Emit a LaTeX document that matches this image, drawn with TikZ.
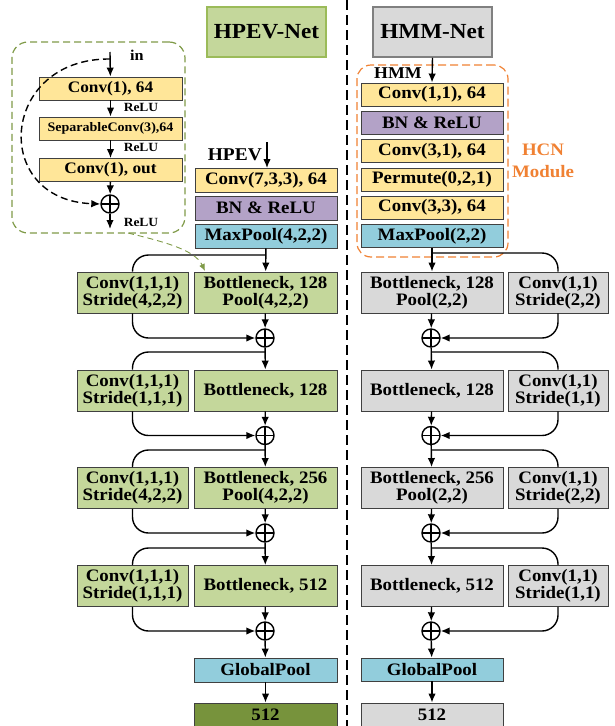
\documentclass[tikz,border=0pt]{standalone}
\usepackage{fontspec}
\setmainfont[FakeStretch=1.08]{Liberation Serif}
\usetikzlibrary{arrows.meta}

\definecolor{cyel}{HTML}{FFE699}
\definecolor{cpur}{HTML}{B3A2C7}
\definecolor{cblu}{HTML}{92CDDC}
\definecolor{cgrn}{HTML}{C4D79B}
\definecolor{cgry}{HTML}{D9D9D9}
\definecolor{cdgr}{HTML}{77933C}
\definecolor{cgbd}{HTML}{9BBB59}
\definecolor{cora}{HTML}{F08133}
\definecolor{coli}{HTML}{7F9A48}

\tikzset{
  blk/.style={draw=black!75, line width=0.9pt, inner sep=0pt, align=center,
    font=\fontsize{17.5}{17}\selectfont\bfseries},
  one/.style={blk, minimum width=142pt, minimum height=24pt},
  two/.style={blk, minimum height=41pt},
  small/.style={blk, minimum width=143pt, minimum height=23pt,
    font=\fontsize{16}{17}\selectfont\bfseries},
  oplus/.style={circle, draw, line width=1.4pt, minimum size=18pt, inner sep=0pt,
    path picture={\draw[line width=1.4pt] (path picture bounding box.north) -- (path picture bounding box.south)
      (path picture bounding box.west) -- (path picture bounding box.east);}},
  lbl/.style={font=\fontsize{12.5}{13}\selectfont\bfseries, inner sep=0pt},
  arr/.style={line width=1.4pt, -{Latex[length=9pt,width=7.5pt]}},
  skip/.style={line width=1.4pt, rounded corners=16pt},
}

\begin{document}
\begin{tikzpicture}[x=1pt, y=-1pt]
  \useasboundingbox (0,0) rectangle (615,726);
  \draw[line width=1.5pt, dash pattern=on 10pt off 5pt] (347,0) -- (347,726);

  % titles
  \node[draw=cgbd, fill=cgrn, line width=1.5pt, minimum width=119pt, minimum height=50pt,
        font=\fontsize{21.5}{22}\selectfont\bfseries] (hpevt) at (266.5,32) {HPEV-Net};
  \node[draw=black!50, fill=cgry, line width=1.5pt, minimum width=119pt, minimum height=50pt,
        font=\fontsize{21.5}{22}\selectfont\bfseries] (hmmt) at (432.5,32) {HMM-Net};

  % residual unit
  \node[draw=coli, line width=1.2pt, rounded corners=16pt, dash pattern=on 7pt off 4pt,
        minimum width=173pt, minimum height=191pt] (inset) at (98.5,137.5) {};
  \node[small, fill=cyel] (ia) at (110.5,88.5) {Conv(1), 64};
  \node[small, fill=cyel, font=\fontsize{13}{14}\selectfont\bfseries] (ib) at (110.5,128.5) {SeparableConv(3),64};
  \node[small, fill=cyel] (ic) at (110.5,170) {Conv(1), out};
  \node[oplus] (ip) at (110,204) {};
  \coordinate (iin) at (110,52);
  \coordinate (ibr) at (110,59);
  \coordinate (iout) at (110,229);
  \node[font=\fontsize{15}{15}\selectfont\bfseries, inner sep=0pt] (inl) at (137,55) {in};
  \node[lbl] (r1) at (141,107) {ReLU};
  \node[lbl] (r2) at (141,147) {ReLU};
  \node[lbl] (r3) at (141,222) {ReLU};
  \draw[arr] (iin) -- (ia);
  \draw[arr] (ia) -- (ib);
  \draw[arr] (ib) -- (ic);
  \draw[arr] (ic) -- (ip);
  \draw[arr] (ip) -- (iout);
  \draw[arr, dash pattern=on 7pt off 4pt]
    (ibr) .. controls (0,58) and (-10,200) .. (ip.west);

  % HPEV stem
  \node[one, fill=cyel] (conv7) at (266,180.5) {Conv(7,3,3), 64};
  \node[one, fill=cpur] (bnh) at (266,208) {BN \& ReLU};
  \node[one, fill=cblu] (mph) at (266,236) {MaxPool(4,2,2)};
  \coordinate (hin) at (267,142);
  \node[anchor=east, font=\fontsize{18}{18}\selectfont\bfseries, inner sep=0pt] (hpevl) at (262,155) {HPEV};
  \draw[arr] (hin) -- (hin |- conv7.north);

  % HMM stem
  \node[one, fill=cyel, minimum height=23pt] (c11) at (432,94.5) {Conv(1,1), 64};
  \node[one, fill=cpur, minimum height=23pt] (bnm) at (432,122.5) {BN \& ReLU};
  \node[one, fill=cyel, minimum height=23pt] (c31) at (432,151) {Conv(3,1), 64};
  \node[one, fill=cyel, minimum height=23pt] (perm) at (432,179.5) {Permute(0,2,1)};
  \node[one, fill=cyel, minimum height=23pt] (c33) at (432,207.5) {Conv(3,3), 64};
  \node[one, fill=cblu, minimum height=23pt] (mpm) at (432,236) {MaxPool(2,2)};
  \node[draw=cora, line width=1.2pt, rounded corners=14pt, dash pattern=on 8pt off 4pt,
        minimum width=151pt, minimum height=192pt] (hcn) at (432.5,161) {};
  \node[anchor=west, font=\fontsize{16.5}{16}\selectfont\bfseries, inner sep=0pt] (hmml) at (374,73) {HMM};
  \node[text=cora, align=center, font=\fontsize{17.5}{22}\selectfont\bfseries] (hcnl) at (543,161) {HCN\\Module};
  \draw[arr] (hmmt.south) -- (c11.north);

  % HPEV blocks
  \node[two, fill=cgrn, minimum width=111pt] (hl1) at (132.5,292.5) {Conv(1,1,1)\\Stride(4,2,2)};
  \node[two, fill=cgrn, minimum width=143pt] (hb1) at (265.5,292.5) {Bottleneck, 128\\Pool(4,2,2)};
  \node[oplus] (hp1) at (265,338) {};
  \node[two, fill=cgrn, minimum width=111pt] (hl2) at (132.5,390.5) {Conv(1,1,1)\\Stride(1,1,1)};
  \node[two, fill=cgrn, minimum width=143pt] (hb2) at (265.5,390.5) {Bottleneck, 128};
  \node[oplus] (hp2) at (265,435.5) {};
  \node[two, fill=cgrn, minimum width=111pt] (hl3) at (132.5,488) {Conv(1,1,1)\\Stride(4,2,2)};
  \node[two, fill=cgrn, minimum width=143pt] (hb3) at (265.5,488) {Bottleneck, 256\\Pool(4,2,2)};
  \node[oplus] (hp3) at (265,533) {};
  \node[two, fill=cgrn, minimum width=111pt] (hl4) at (132.5,586) {Conv(1,1,1)\\Stride(1,1,1)};
  \node[two, fill=cgrn, minimum width=143pt] (hb4) at (265.5,586) {Bottleneck, 512};
  \node[oplus] (hp4) at (265,631) {};
  \node[one, fill=cblu, minimum width=143pt] (gph) at (265.5,670) {GlobalPool};
  \node[one, fill=cdgr, minimum width=143pt] (oh) at (265.5,715) {512};

  \coordinate (hs1) at (265,255);
  \coordinate (hs2) at (265,352);
  \coordinate (hs3) at (265,450);
  \coordinate (hs4) at (265,548);
  \draw[arr] (mph) -- (hb1);
  \draw[arr] (hb1) -- (hp1);
  \draw[arr] (hp1) -- (hb2);
  \draw[arr] (hb2) -- (hp2);
  \draw[arr] (hp2) -- (hb3);
  \draw[arr] (hb3) -- (hp3);
  \draw[arr] (hp3) -- (hb4);
  \draw[arr] (hb4) -- (hp4);
  \draw[arr] (hp4) -- (gph);
  \draw[arr] (gph) -- (oh);
  \draw[skip] (hs1) -| (hl1.north);
  \draw[skip, arr] (hl1.south) |- (hp1.west);
  \draw[skip] (hs2) -| (hl2.north);
  \draw[skip, arr] (hl2.south) |- (hp2.west);
  \draw[skip] (hs3) -| (hl3.north);
  \draw[skip, arr] (hl3.south) |- (hp3.west);
  \draw[skip] (hs4) -| (hl4.north);
  \draw[skip, arr] (hl4.south) |- (hp4.west);

  \coordinate (ifrom) at (128,233);
  \draw[coli, line width=0.9pt, dash pattern=on 6pt off 4pt, -{Latex[length=7pt,width=6pt]}]
    (ifrom) .. controls (165,242) and (195,250) .. (205,271);

  % HMM blocks
  \node[two, fill=cgry, minimum width=142pt] (mb1) at (432,292.5) {Bottleneck, 128\\Pool(2,2)};
  \node[two, fill=cgry, minimum width=100pt] (mr1) at (558,292.5) {Conv(1,1)\\Stride(2,2)};
  \node[oplus] (mp1) at (431,338) {};
  \node[two, fill=cgry, minimum width=142pt] (mb2) at (432,390.5) {Bottleneck, 128};
  \node[two, fill=cgry, minimum width=100pt] (mr2) at (558,390.5) {Conv(1,1)\\Stride(1,1)};
  \node[oplus] (mp2) at (431,435.5) {};
  \node[two, fill=cgry, minimum width=142pt] (mb3) at (432,488) {Bottleneck, 256\\Pool(2,2)};
  \node[two, fill=cgry, minimum width=100pt] (mr3) at (558,488) {Conv(1,1)\\Stride(2,2)};
  \node[oplus] (mp3) at (431,533) {};
  \node[two, fill=cgry, minimum width=142pt] (mb4) at (432,586) {Bottleneck, 512};
  \node[two, fill=cgry, minimum width=100pt] (mr4) at (558,586) {Conv(1,1)\\Stride(1,1)};
  \node[oplus] (mp4) at (431,631) {};
  \node[one, fill=cblu, minimum width=142pt, minimum height=23pt] (gpm) at (432,669.5) {GlobalPool};
  \node[one, fill=cgry, minimum width=142pt] (om) at (432,715) {512};

  \coordinate (ms1) at (431,253);
  \coordinate (ms2) at (431,352);
  \coordinate (ms3) at (431,450);
  \coordinate (ms4) at (431,548);
  \draw[arr] (mpm) -- (mb1);
  \draw[arr] (mb1) -- (mp1);
  \draw[arr] (mp1) -- (mb2);
  \draw[arr] (mb2) -- (mp2);
  \draw[arr] (mp2) -- (mb3);
  \draw[arr] (mb3) -- (mp3);
  \draw[arr] (mp3) -- (mb4);
  \draw[arr] (mb4) -- (mp4);
  \draw[arr] (mp4) -- (gpm);
  \draw[arr] (gpm) -- (om);
  \draw[skip] (ms1) -| (mr1.north);
  \draw[skip, arr] (mr1.south) |- (mp1.east);
  \draw[skip] (ms2) -| (mr2.north);
  \draw[skip, arr] (mr2.south) |- (mp2.east);
  \draw[skip] (ms3) -| (mr3.north);
  \draw[skip, arr] (mr3.south) |- (mp3.east);
  \draw[skip] (ms4) -| (mr4.north);
  \draw[skip, arr] (mr4.south) |- (mp4.east);
\end{tikzpicture}
\end{document}
